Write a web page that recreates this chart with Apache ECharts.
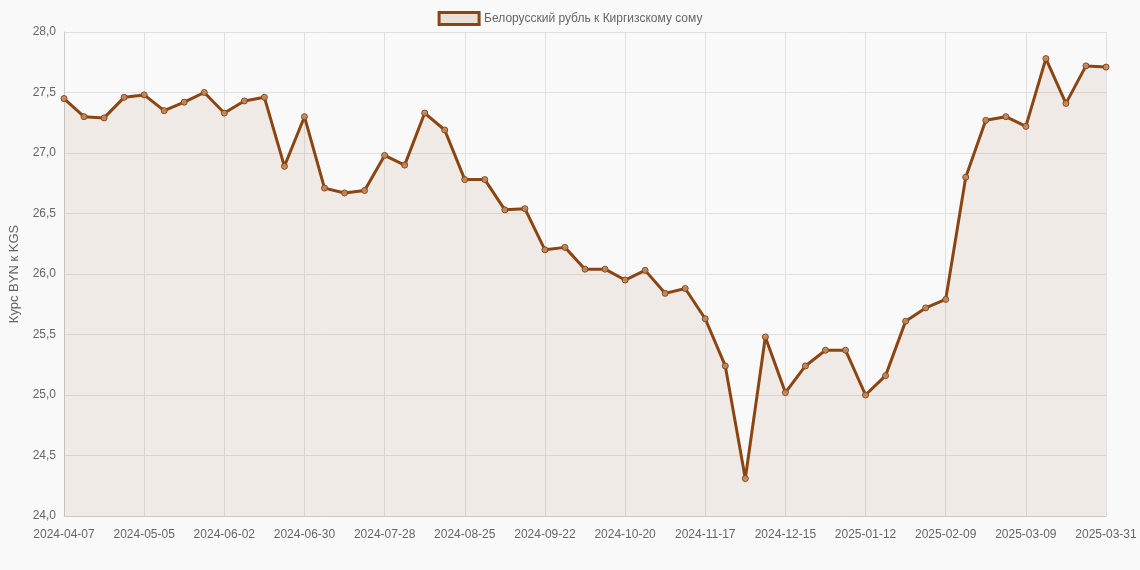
<!DOCTYPE html>
<html>
<head>
  <meta charset="utf-8">
  <title>BYN/KGS</title>
  <script src="https://cdn.jsdelivr.net/npm/echarts@6/dist/echarts.min.js"></script>
  <style>html,body{margin:0;background:#f9f9f9}</style>
</head>
<body>
<div id="main" style="width:1140px;height:570px"></div>
<script type="text/javascript">
  // даты (недельные точки)
  var dates = [
    '2024-04-07','2024-04-14','2024-04-21','2024-04-28','2024-05-05','2024-05-12','2024-05-19','2024-05-26',
    '2024-06-02','2024-06-09','2024-06-16','2024-06-23','2024-06-30','2024-07-07','2024-07-14','2024-07-21',
    '2024-07-28','2024-08-04','2024-08-11','2024-08-18','2024-08-25','2024-09-01','2024-09-08','2024-09-15',
    '2024-09-22','2024-09-29','2024-10-06','2024-10-13','2024-10-20','2024-10-27','2024-11-03','2024-11-10',
    '2024-11-17','2024-11-24','2024-12-01','2024-12-08','2024-12-15','2024-12-22','2024-12-29','2025-01-05',
    '2025-01-12','2025-01-19','2025-01-26','2025-02-02','2025-02-09','2025-02-16','2025-02-23','2025-03-02',
    '2025-03-09','2025-03-16','2025-03-23','2025-03-30','2025-03-31'
  ];
  var rates = [
    27.45,27.30,27.29,27.46,27.48,27.35,27.42,27.50,
    27.33,27.43,27.46,26.89,27.30,26.71,26.67,26.69,
    26.98,26.90,27.33,27.19,26.78,26.78,26.53,26.54,
    26.20,26.22,26.04,26.04,25.95,26.03,25.84,25.88,
    25.63,25.24,24.31,25.48,25.02,25.24,25.37,25.37,
    25.00,25.16,25.61,25.72,25.79,26.80,27.27,27.30,
    27.22,27.78,27.41,27.72,27.71
  ];
  var seriesName = 'Белорусский рубль к Киргизскому сому';

  var myChart = echarts.init(document.getElementById('main'));
  var option = {
    backgroundColor: '#f9f9f9',
    textStyle: { fontFamily: 'Liberation Sans, Arial, sans-serif' },
    legend: {
      top: 6,
      itemWidth: 40, itemHeight: 12,
      textStyle: { color: '#666', fontSize: 12 },
      data: [{ name: seriesName, icon: 'rect', itemStyle: { color: '#e8e1d8', borderColor: '#8b4513', borderWidth: 3 } }]
    },
    grid: { left: 62, right: 34, top: 32, bottom: 54 },
    xAxis: {
      type: 'category',
      data: dates,
      boundaryGap: false,
      axisLine: { lineStyle: { color: '#ccc' } },
      axisTick: { show: false },
      axisLabel: { interval: 3, color: '#666', fontSize: 12, margin: 13 },
      splitLine: { show: true, interval: 3, lineStyle: { color: '#e0e0e0' } }
    },
    yAxis: {
      type: 'value',
      min: 24, max: 28, interval: 0.5,
      name: 'Курс BYN к KGS',
      nameLocation: 'middle',
      nameGap: 43,
      nameTextStyle: { color: '#666', fontSize: 13 },
      axisLine: { show: true, lineStyle: { color: '#ccc' } },
      axisLabel: { color: '#666', fontSize: 12, formatter: function (v) { return v.toFixed(1).replace('.', ','); } },
      splitLine: { lineStyle: { color: '#e0e0e0' } }
    },
    series: [{
      name: seriesName,
      type: 'line',
      data: rates,
      symbol: 'circle',
      symbolSize: 6,
      lineStyle: { color: '#8b4513', width: 3 },
      itemStyle: { color: 'rgba(190,140,100,0.9)', borderColor: '#8b4513', borderWidth: 1 },
      areaStyle: { color: 'rgba(139,69,19,0.11)' }
    }]
  };
  myChart.setOption(option);
</script>
</body>
</html>
